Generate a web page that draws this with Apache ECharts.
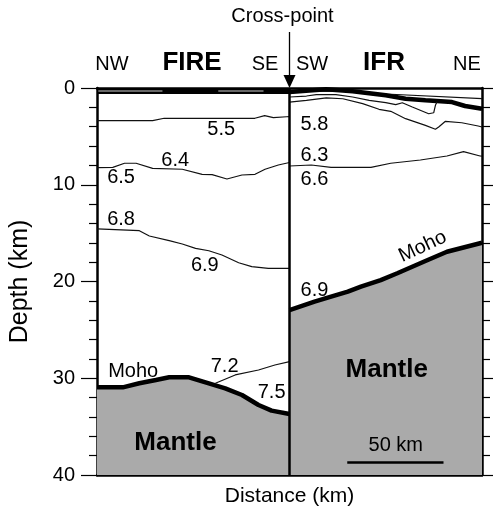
<!DOCTYPE html>
<html><head><meta charset="utf-8">
<script src="https://cdn.jsdelivr.net/npm/echarts@6/dist/echarts.min.js"></script>
<style>html,body{margin:0;padding:0;background:#fff}#c{width:493px;height:515px}</style>
</head><body><div id="c"></div>
<script>
// Distance along section in km: FIRE profile 0–100, IFR profile 100–200 (cross-point at 100)
const depthRange = [0, 40];
const depthStep = 10;
const crossPointKm = 100;
const scaleBar = [[130, 38.7], [180, 38.7]];

const fireSurface = [[0,0.3],[100,0.3]];
const fireSurfaceGrey1 = [[0.7,0.3],[34,0.3]];
const fireSurfaceGrey2 = [[63,0.3],[86.5,0.3]];
const fireLine55 = [[0,3.38],[28.9,3.38],[34.9,3.13],[82,3.13],[87.1,2.86],[91.6,3.07],[98.5,2.97],[100,2.95]];
const fireLine64 = [[0,8.24],[8.2,8.20],[14.3,7.78],[20.3,7.78],[28.9,8.30],[44.3,8.40],[54.6,8.92],[59.8,8.96],[67.5,9.41],[75.3,8.99],[82.1,8.92],[87.3,8.40],[94.2,7.96],[100,7.70]];
const fireLine68 = [[0,14.57],[22,14.75],[27.2,15.30],[37.5,15.78],[44.3,16.12],[51.2,16.57],[58.1,16.82],[64.9,17.26],[73.6,18.06],[80.4,18.47],[89,18.64],[100,18.64]];
const fireLine72 = [[61.5,30.52],[71.8,29.66],[83.9,29.15],[92.4,28.63],[100,28.29]];
const fireMoho = [[0,30.94],[13.4,30.94],[22,30.52],[30.6,30.18],[37.5,29.90],[47.8,29.90],[58.1,30.52],[66.6,31.04],[75.3,31.73],[83.9,32.76],[90.7,33.35],[100,33.70]];

const ifrSurface = [[100,0.41],[119,0.13],[132.8,0.34],[150,0.75],[160.3,1.11],[170.6,1.27],[184.4,1.45],[191.2,1.86],[200,2.14]];
const ifrTopLine = [[100,0.3],[130,0.35],[150,0.62],[200,1.1]];
const ifrLineA = [[100,0.93],[108.8,0.83],[113.9,0.69],[124.1,0.69],[132.8,0.93],[141.4,1.27],[150,1.52],[155.2,1.72],[158.6,1.52],[163.8,1.96],[172.3,2.66],[174.9,2.56],[175.8,1.79],[176.6,1.45]];
const ifrLine58 = [[100,1.45],[108.8,1.27],[119.1,1.03],[127.7,1.11],[138,1.62],[146.5,2.2],[152.6,2.41],[160.3,3.17],[170.6,3.86],[175.8,4.27],[177.5,4.03],[181,3.44],[189.5,3.59],[198,3.93],[200,4.03]];
const ifrLine63 = [[100,8.06],[111.3,7.96],[121.6,8.20],[142.3,8.20],[152.6,7.78],[168,7.44],[181.8,7.03],[190.4,6.58],[199,7.03],[200,7.05]];
const ifrMoho = [[100,22.95],[113,22.09],[121.6,21.57],[130.3,21.05],[137.1,20.54],[147.4,19.85],[156,19.15],[170.6,17.88],[181.8,16.92],[200,15.99]];

// velocity / unit labels: [text, km, depth]
const velocityLabels = [
  ['5.5',64.5,4.3],['6.4',40.6,7.5],['6.5',12.5,9.3],['6.8',12.5,13.6],['6.9',56.0,18.3],
  ['7.2',66.3,28.8],['7.5',90.7,31.5],
  ['5.8',113.0,3.75],['6.3',113.0,6.93],['6.6',113.0,9.44],['6.9',113.0,20.88],['50 km',155.2,36.9]
];
const mohoLabels = [['Moho',18.8,29.25,0],['Moho',169.2,16.4,25]];
const mantleLabels = [['Mantle',40.8,36.7],['Mantle',150.5,29.1]];

const FONT = '"Liberation Sans", Arial, Helvetica, sans-serif';
const chart = echarts.init(document.getElementById('c'), null, {renderer:'canvas'});

function thin(data, w, color){
  return {type:'line', data, showSymbol:false, silent:true, z:3,
    lineStyle:{color:color||'#111', width:w||1.2}, animation:false};
}
const labelBase = {show:true, position:'inside', formatter:p=>p.name, color:'#000', opacity:1,
  textBorderWidth:0, textBorderColor:'transparent', textShadowBlur:0, fontFamily:FONT};

function labelSeries(data, extra){
  return {type:'scatter', symbolSize:0, z:5, animation:false, silent:true,
    itemStyle:{color:'#000', opacity:1}, data,
    label:Object.assign({}, labelBase, extra)};
}

const series = [
  {type:'line', data:fireMoho, showSymbol:false, z:2, animation:false,
   lineStyle:{color:'#000', width:4.5}, areaStyle:{color:'#aaaaaa', opacity:1, origin:'end'}},
  {type:'line', data:ifrMoho, showSymbol:false, z:2, animation:false,
   lineStyle:{color:'#000', width:4.5}, areaStyle:{color:'#aaaaaa', opacity:1, origin:'end'}},
  thin(fireSurface, 6, '#000'),
  thin(fireSurfaceGrey1, 1.5, '#8a8a8a'),
  thin(fireSurfaceGrey2, 1.5, '#8a8a8a'),
  thin(fireLine55), thin(fireLine64), thin(fireLine68), thin(fireLine72),
  thin(ifrTopLine), thin(ifrSurface, 4.5, '#000'), thin(ifrLineA), thin(ifrLine58), thin(ifrLine63),
  thin([[crossPointKm, depthRange[0]],[crossPointKm, depthRange[1]]], 2.5, '#000'),
  thin(scaleBar, 2.5, '#000'),
  labelSeries(velocityLabels.map(d=>({value:[d[1],d[2]], name:d[0]})), {fontSize:20}),
  labelSeries(mohoLabels.map(d=>({value:[d[1],d[2]], name:d[0], label:{rotate:d[3]}})), {fontSize:20}),
  labelSeries(mantleLabels.map(d=>({value:[d[1],d[2]], name:d[0]})), {fontSize:26, fontWeight:'bold'})
];

chart.setOption({
  backgroundColor:'#fff',
  animation:false,
  grid:{left:94, right:11, top:88, bottom:40, containLabel:false},
  xAxis:[
    {type:'value', min:0, max:200, position:'bottom',
     axisLine:{show:true, onZero:false, lineStyle:{color:'#000', width:2.5}},
     axisTick:{show:false}, axisLabel:{show:false}, splitLine:{show:false},
     name:'Distance (km)', nameLocation:'middle', nameGap:11,
     nameTextStyle:{fontSize:21, color:'#000', fontFamily:FONT}},
    {type:'value', min:0, max:200, position:'top',
     axisLine:{show:true, onZero:false, lineStyle:{color:'#000', width:2.5}},
     axisTick:{show:false}, axisLabel:{show:false}, splitLine:{show:false}}
  ],
  yAxis:[
    {type:'value', inverse:true, min:depthRange[0], max:depthRange[1], interval:depthStep, position:'left',
     axisLine:{show:true, onZero:false, lineStyle:{color:'#000', width:2.5}},
     axisTick:{show:true, length:16, lineStyle:{color:'#000', width:1.2}},
     minorTick:{show:true, splitNumber:5, length:8, lineStyle:{color:'#000', width:1.2}},
     axisLabel:{fontSize:20, color:'#000', margin:22, fontFamily:FONT},
     splitLine:{show:false},
     name:'Depth (km)', nameLocation:'middle', nameRotate:90, nameGap:64,
     nameTextStyle:{fontSize:25, color:'#000', fontFamily:FONT}},
    {type:'value', inverse:true, min:depthRange[0], max:depthRange[1], interval:depthStep, position:'right',
     axisLine:{show:true, onZero:false, lineStyle:{color:'#000', width:2.5}},
     axisTick:{show:true, length:16, lineStyle:{color:'#000', width:1.2}},
     minorTick:{show:true, splitNumber:5, length:8, lineStyle:{color:'#000', width:1.2}},
     axisLabel:{show:false}, splitLine:{show:false}}
  ],
  series
});

const crossTop = chart.convertToPixel({gridIndex:0}, [crossPointKm, depthRange[0]]);
const cx = crossTop[0], cy = crossTop[1];
const txt = (text, x, y, size, bold) => ({type:'text', x, y,
  style:{text, fontSize:size, fontWeight:bold?'bold':'normal', fontFamily:FONT, fill:'#000', align:'center', verticalAlign:'middle'}});
chart.setOption({graphic:[
  txt('Cross-point', cx-7, 16, 20),
  {type:'line', shape:{x1:cx, y1:32, x2:cx, y2:cy-10}, style:{stroke:'#000', lineWidth:1.3}},
  {type:'polygon', shape:{points:[[cx-6,cy-13],[cx+6,cy-13],[cx,cy]]}, style:{fill:'#000'}},
  txt('NW', 112, 64, 20), txt('FIRE', 192, 63, 26, true), txt('SE', 265, 64, 20),
  txt('SW', 312, 64, 20), txt('IFR', 384, 63, 26, true), txt('NE', 467, 64, 20)
]});
</script></body></html>
